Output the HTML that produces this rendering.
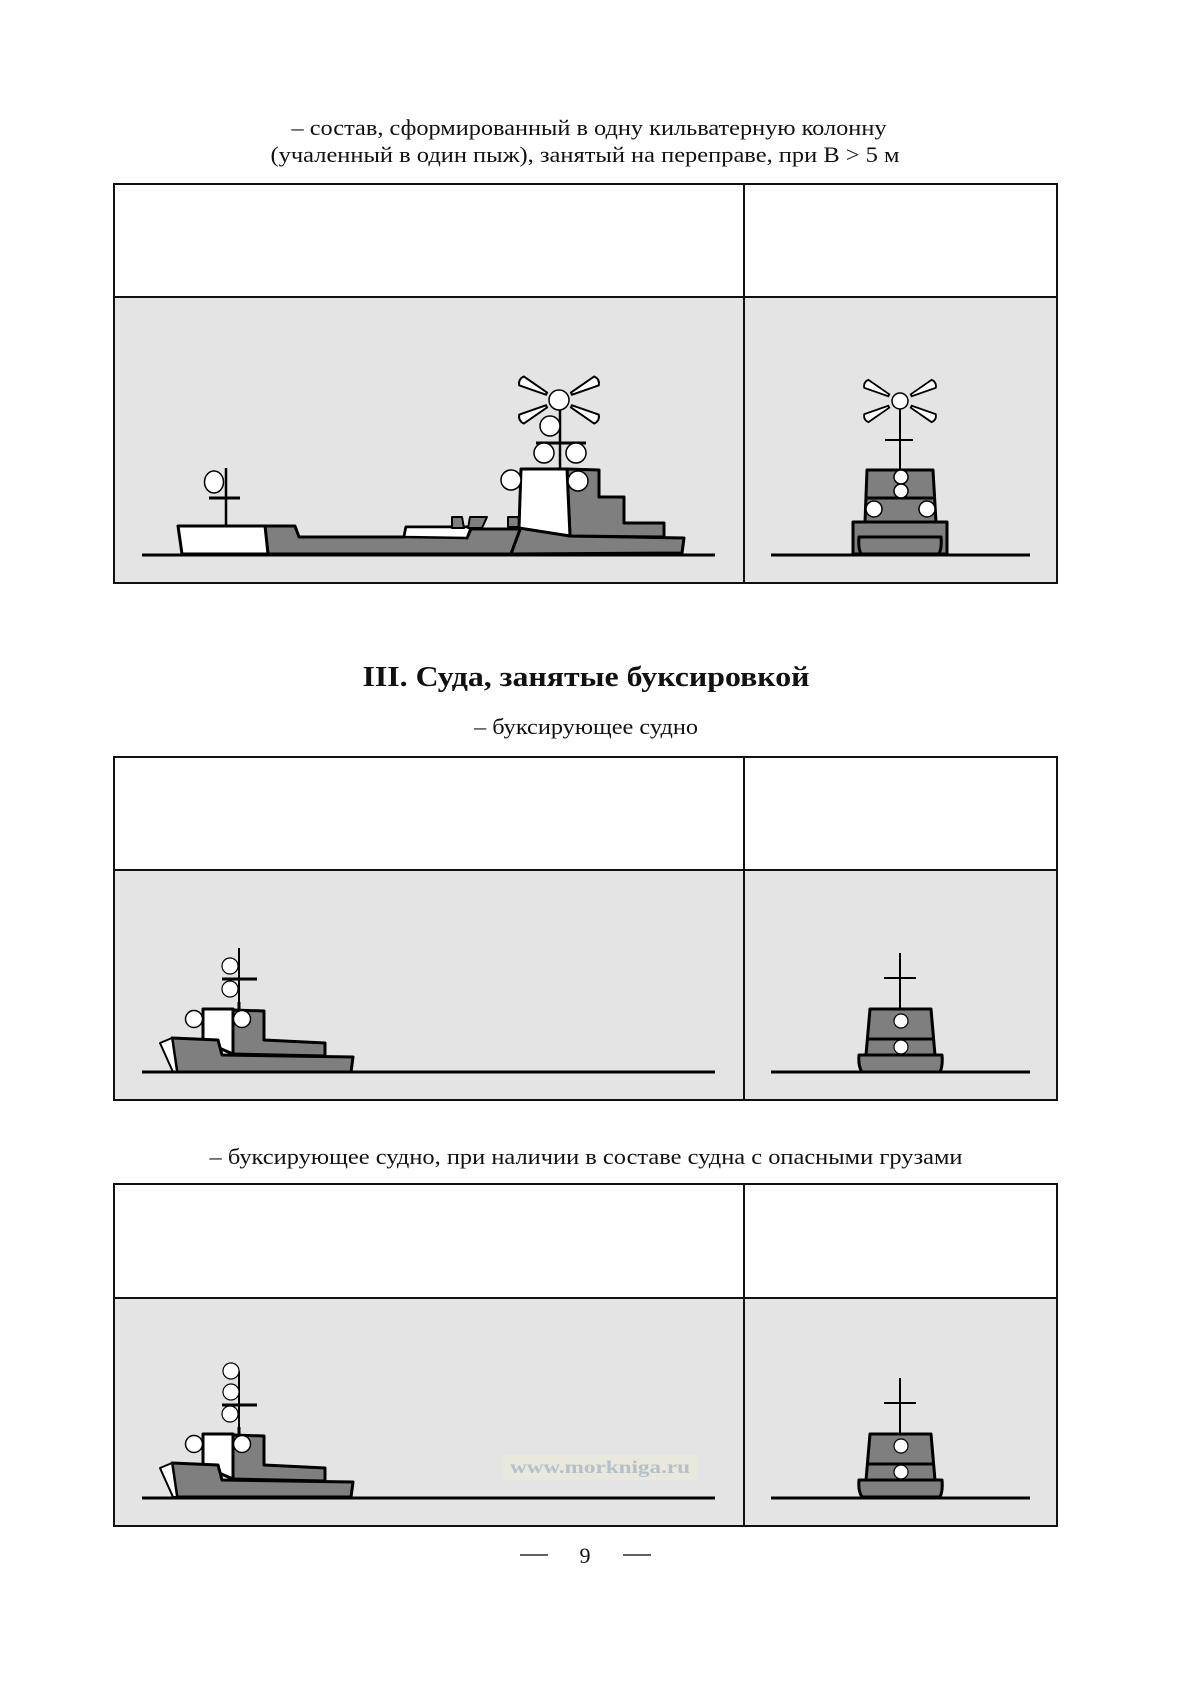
<!DOCTYPE html>
<html><head><meta charset="utf-8"><style>
html,body{margin:0;padding:0;background:#fff;}
svg{display:block;}
text{font-family:"Liberation Serif","Noto Serif CJK SC",serif;fill:#111;}
</style></head><body>
<svg width="1200" height="1700" viewBox="0 0 1200 1700" xmlns="http://www.w3.org/2000/svg">
<defs>
<path id="ray" d="M14,-1.2 L42,-5 Q46,0 42,5 L14,1.2 Z" fill="#fff" stroke="#000" stroke-width="2"/>
</defs>
<text x="589" y="135" font-size="22" text-anchor="middle" textLength="595" lengthAdjust="spacingAndGlyphs">– состав, сформированный в одну кильватерную колонну</text>
<text x="585" y="162" font-size="22" text-anchor="middle" textLength="629" lengthAdjust="spacingAndGlyphs">(учаленный в один пыж), занятый на переправе, при В &gt; 5 м</text>

<!-- Box 1 -->
<rect x="114" y="184" width="943" height="399" fill="#fff" stroke="#111" stroke-width="2"/>
<rect x="115" y="297" width="941" height="285" fill="#e4e4e4"/>
<line x1="114" y1="297" x2="1057" y2="297" stroke="#111" stroke-width="2"/>
<line x1="744" y1="184" x2="744" y2="583" stroke="#111" stroke-width="2"/>
<g stroke="#000" stroke-width="3" stroke-linejoin="round">
<polygon points="265,526 295,526 299,537 404,537 406,527 471,527 467,538 471,529 517,529 521,527 511,554 268,554" fill="#7f7f7f"/>
<polygon points="178,526 265,526 268,554 182,554" fill="#fff"/>
<polygon points="406,527 471,527 467,538 404,537" fill="#fff" stroke-width="2.5"/>
<polygon points="452,517 462,517 464,528 452,528" fill="#7f7f7f" stroke-width="2"/>
<polygon points="470,517 487,517 482,528 468,528" fill="#7f7f7f" stroke-width="2"/>
<polygon points="508,517 518,517 521,527 508,527" fill="#7f7f7f" stroke-width="2"/>
<polygon points="521,527 570,536 684,538 682,553 511,554" fill="#7f7f7f"/>
<polygon points="567,469 599,470 599,497 624,497 624,523 664,523 664,537 570,536" fill="#7f7f7f"/>
<polygon points="521,469 567,469 570,536 519,528" fill="#fff"/>
</g>
<line x1="226" y1="468" x2="226" y2="526" stroke="#000" stroke-width="2.5"/>
<line x1="209" y1="498" x2="240" y2="498" stroke="#000" stroke-width="3"/>
<ellipse cx="214" cy="482" rx="9.5" ry="11" fill="#fff" stroke="#000" stroke-width="1.5"/>
<line x1="560" y1="400" x2="560" y2="469" stroke="#000" stroke-width="2.5"/>
<line x1="536" y1="443" x2="586" y2="443" stroke="#000" stroke-width="3"/>
<g fill="#fff" stroke="#000" stroke-width="1.5">
<circle cx="559" cy="400" r="10"/>
<circle cx="550" cy="426" r="10"/>
<circle cx="544" cy="453" r="10"/>
<circle cx="576" cy="453" r="10"/>
<circle cx="511" cy="480" r="10"/>
<circle cx="578" cy="481" r="10"/>
</g>
<g transform="translate(559,400)"><use href="#ray" transform="rotate(-27)"/><use href="#ray" transform="rotate(27)"/><use href="#ray" transform="rotate(153)"/><use href="#ray" transform="rotate(207)"/></g>
<line x1="142" y1="555" x2="715" y2="555" stroke="#000" stroke-width="3"/>
<!-- right view 1 -->
<g stroke="#000" stroke-width="3" stroke-linejoin="round" fill="#7f7f7f">
<rect x="853" y="522" width="94" height="32"/>
<polygon points="867,470 933,470 936,522 865,522"/>
<line x1="866" y1="498" x2="935" y2="498"/>
<path d="M859,537 L941,537 Q942,548 939,554 L861,554 Q858,548 859,537 Z"/>
</g>
<line x1="900" y1="401" x2="900" y2="470" stroke="#000" stroke-width="2"/>
<line x1="885" y1="440" x2="913" y2="440" stroke="#000" stroke-width="2"/>
<g fill="#fff" stroke="#000" stroke-width="1.5">
<circle cx="900" cy="401" r="8"/>
<circle cx="901" cy="477" r="7"/>
<circle cx="901" cy="491" r="7"/>
<circle cx="874" cy="509" r="8"/>
<circle cx="927" cy="509" r="8"/>
</g>
<g transform="translate(900,401)"><use href="#ray" transform="rotate(-27) scale(0.9)"/><use href="#ray" transform="rotate(27) scale(0.9)"/><use href="#ray" transform="rotate(153) scale(0.9)"/><use href="#ray" transform="rotate(207) scale(0.9)"/></g>
<line x1="771" y1="555" x2="1030" y2="555" stroke="#000" stroke-width="3"/>

<text x="586" y="686" font-size="29" font-weight="bold" text-anchor="middle" textLength="447" lengthAdjust="spacingAndGlyphs">III. Суда, занятые буксировкой</text>
<text x="586" y="734" font-size="22" text-anchor="middle" textLength="224" lengthAdjust="spacingAndGlyphs">– буксирующее судно</text>

<!-- Box 2 -->
<rect x="114" y="757" width="943" height="343" fill="#fff" stroke="#111" stroke-width="2"/>
<rect x="115" y="870" width="941" height="229" fill="#e4e4e4"/>
<line x1="114" y1="870" x2="1057" y2="870" stroke="#111" stroke-width="2"/>
<line x1="744" y1="757" x2="744" y2="1100" stroke="#111" stroke-width="2"/>

<g id="tug">
<g stroke="#000" stroke-width="3" stroke-linejoin="round">
<polygon points="233,1010 264,1011 264,1040 325,1043 325,1056 233,1054" fill="#7f7f7f"/>
<polygon points="203,1009 233,1009 233,1054 203,1041" fill="#fff"/>
<polygon points="172,1038 218,1040 222,1055 353,1057 351,1072 177,1072" fill="#7f7f7f"/>
<polygon points="160,1043 172,1038 177,1072 173,1072" fill="#fff" stroke-width="2"/>
</g>
<line x1="239" y1="1009" x2="239" y2="1002" stroke="#000" stroke-width="3"/>
<g fill="#fff" stroke="#000" stroke-width="1.5">
<circle cx="194" cy="1019" r="8.5"/>
<circle cx="242" cy="1019" r="8.5"/>
</g>
</g>
<line x1="239" y1="948" x2="239" y2="1009" stroke="#000" stroke-width="2"/>
<line x1="222" y1="979" x2="257" y2="979" stroke="#000" stroke-width="3"/>
<g fill="#fff" stroke="#000" stroke-width="1.2">
<circle cx="230" cy="966" r="8"/>
<circle cx="230" cy="989" r="8"/>
</g>
<line x1="142" y1="1072" x2="715" y2="1072" stroke="#000" stroke-width="3"/>

<g id="rtug">
<g stroke="#000" stroke-width="3" stroke-linejoin="round" fill="#7f7f7f">
<polygon points="870,1009 931,1009 935,1055 866,1055"/>
<line x1="868" y1="1039" x2="933" y2="1039"/>
<path d="M859,1055 L942,1055 Q943,1066 940,1072 L862,1072 Q858,1066 859,1055 Z"/>
</g>
<line x1="900" y1="953" x2="900" y2="1009" stroke="#000" stroke-width="2"/>
<line x1="884" y1="978" x2="916" y2="978" stroke="#000" stroke-width="2"/>
<g fill="#fff" stroke="#000" stroke-width="1.2">
<circle cx="901" cy="1021" r="7"/>
<circle cx="901" cy="1047" r="7"/>
</g>
</g>
<line x1="771" y1="1072" x2="1030" y2="1072" stroke="#000" stroke-width="3"/>

<text x="586" y="1164" font-size="22" text-anchor="middle" textLength="753" lengthAdjust="spacingAndGlyphs">– буксирующее судно, при наличии в составе судна с опасными грузами</text>

<!-- Box 3 -->
<rect x="114" y="1184" width="943" height="342" fill="#fff" stroke="#111" stroke-width="2"/>
<rect x="115" y="1298" width="941" height="227" fill="#e4e4e4"/>
<line x1="114" y1="1298" x2="1057" y2="1298" stroke="#111" stroke-width="2"/>
<line x1="744" y1="1184" x2="744" y2="1526" stroke="#111" stroke-width="2"/>
<rect x="503" y="1455" width="194" height="25" fill="#e8e8dc"/>
<text x="600" y="1473" font-size="18" font-weight="bold" text-anchor="middle" style="fill:#b4c0cc" textLength="180" lengthAdjust="spacingAndGlyphs">www.morkniga.ru</text>
<use href="#tug" transform="translate(0,425)"/>
<line x1="239" y1="1371" x2="239" y2="1434" stroke="#000" stroke-width="2"/>
<line x1="222" y1="1405" x2="257" y2="1405" stroke="#000" stroke-width="3"/>
<g fill="#fff" stroke="#000" stroke-width="1.2">
<circle cx="231" cy="1371" r="8"/>
<circle cx="231" cy="1392" r="8"/>
<circle cx="230" cy="1414" r="8"/>
</g>
<line x1="142" y1="1498" x2="715" y2="1498" stroke="#000" stroke-width="3"/>
<use href="#rtug" transform="translate(0,425)"/>
<line x1="771" y1="1498" x2="1030" y2="1498" stroke="#000" stroke-width="3"/>

<line x1="520" y1="1555" x2="548" y2="1555" stroke="#000" stroke-width="1.2"/>
<line x1="623" y1="1555" x2="651" y2="1555" stroke="#000" stroke-width="1.2"/>
<text x="585" y="1563" font-size="22" text-anchor="middle">9</text>
</svg>
</body></html>
